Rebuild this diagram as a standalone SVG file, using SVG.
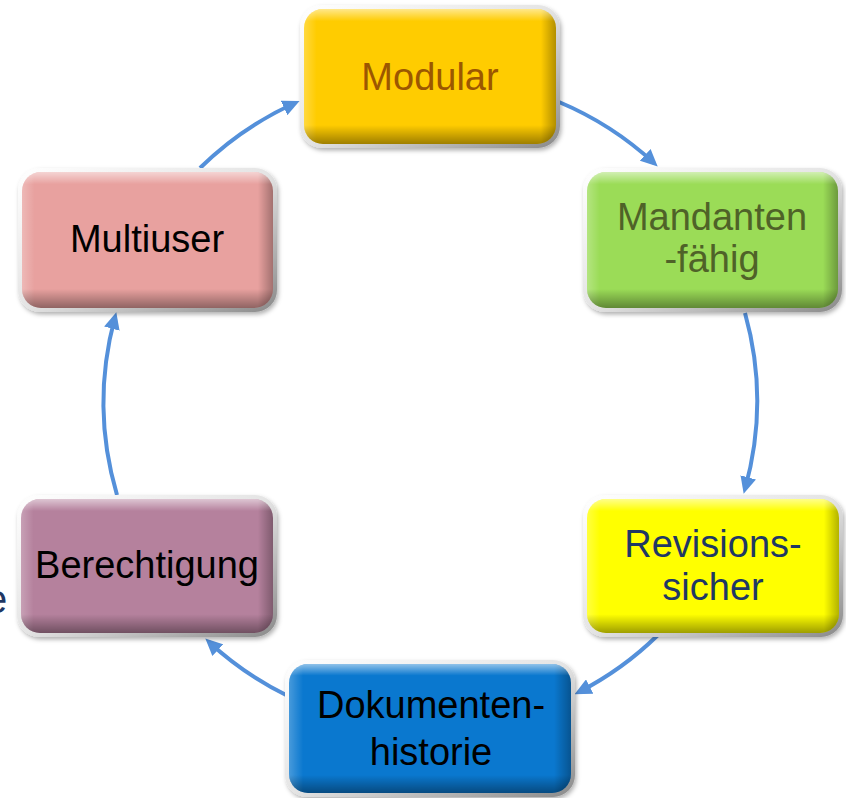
<svg xmlns="http://www.w3.org/2000/svg" width="846" height="798" viewBox="0 0 846 798">
  <defs>
    <linearGradient id="frameGrad" x1="0" y1="0" x2="1" y2="1">
      <stop offset="0" stop-color="#ffffff"/>
      <stop offset="0.5" stop-color="#e4e4e4"/>
      <stop offset="1" stop-color="#8a8a8a"/>
    </linearGradient>
    <linearGradient id="bevelV" x1="0" y1="0" x2="0" y2="1">
      <stop offset="0" stop-color="#ffffff" stop-opacity="0.55"/>
      <stop offset="0.09" stop-color="#ffffff" stop-opacity="0"/>
      <stop offset="0.86" stop-color="#000000" stop-opacity="0"/>
      <stop offset="1" stop-color="#000000" stop-opacity="0.38"/>
    </linearGradient>
    <linearGradient id="bevelH" x1="0" y1="0" x2="1" y2="0">
      <stop offset="0" stop-color="#ffffff" stop-opacity="0.25"/>
      <stop offset="0.05" stop-color="#ffffff" stop-opacity="0"/>
      <stop offset="0.94" stop-color="#000000" stop-opacity="0"/>
      <stop offset="1" stop-color="#000000" stop-opacity="0.3"/>
    </linearGradient>
    <filter id="shadow" x="-10%" y="-10%" width="120%" height="130%">
      <feDropShadow dx="1.5" dy="2.5" stdDeviation="2" flood-color="#000" flood-opacity="0.3"/>
    </filter>
    <marker id="arrow" markerUnits="userSpaceOnUse" markerWidth="18" markerHeight="16" refX="12" refY="8" orient="auto">
      <path d="M0,0 L17,8 L0,16 Z" fill="#5490DA"/>
    </marker>
  </defs>
  <style>
    .frame { fill: url(#frameGrad); filter: url(#shadow); }
    .bv { fill: url(#bevelV); }
    .bh { fill: url(#bevelH); }
    .lbl { font-family: "Liberation Sans", Arial, sans-serif; font-size: 38px; text-anchor: middle; }
    .conn { fill: none; stroke: #5490DA; stroke-width: 4; marker-end: url(#arrow); }
  </style>

  <text x="-15" y="613" class="lbl" style="text-anchor:start; fill:#1F3864; font-size:40px">e</text>

  <g id="connectors">
    <path class="conn" d="M559,102 A327,327 0 0 1 654,163"/>
    <path class="conn" d="M745,313 A327,327 0 0 1 745,489"/>
    <path class="conn" d="M658,635 A327,327 0 0 1 579,692"/>
    <path class="conn" d="M288,696 A327,327 0 0 1 209,642"/>
    <path class="conn" d="M117,495 A327,327 0 0 1 115,317"/>
    <path class="conn" d="M200,168 A327,327 0 0 1 295,103"/>
  </g>

  <g id="node-modular">
    <rect class="frame" x="300" y="5" width="260" height="143" rx="22"/>
    <rect x="304" y="9" width="252" height="135" rx="19" fill="#FFCC00"/>
    <rect class="bh" x="304" y="9" width="252" height="135" rx="19"/>
    <rect class="bv" x="304" y="9" width="252" height="135" rx="19"/>
    <text class="lbl" x="430" y="90" fill="#9C5700">Modular</text>
  </g>

  <g id="node-mandantenfaehig">
    <rect class="frame" x="583" y="168" width="259" height="144" rx="22"/>
    <rect x="587" y="172" width="251" height="136" rx="19" fill="#9BDC57"/>
    <rect class="bh" x="587" y="172" width="251" height="136" rx="19"/>
    <rect class="bv" x="587" y="172" width="251" height="136" rx="19"/>
    <text class="lbl" x="712" y="230" fill="#4F6228">Mandanten</text>
    <text class="lbl" x="712" y="272" fill="#4F6228">-fähig</text>
  </g>

  <g id="node-revisionssicher">
    <rect class="frame" x="583" y="495" width="260" height="142" rx="22"/>
    <rect x="587" y="499" width="252" height="134" rx="19" fill="#FFFF00"/>
    <rect class="bh" x="587" y="499" width="252" height="134" rx="19"/>
    <rect class="bv" x="587" y="499" width="252" height="134" rx="19"/>
    <text class="lbl" x="713" y="557" fill="#1F3864">Revisions-</text>
    <text class="lbl" x="713" y="600" fill="#1F3864">sicher</text>
  </g>

  <g id="node-dokumentenhistorie">
    <rect class="frame" x="285" y="660" width="290" height="137" rx="22"/>
    <rect x="289" y="664" width="282" height="129" rx="19" fill="#0A78CF"/>
    <rect class="bh" x="289" y="664" width="282" height="129" rx="19"/>
    <rect class="bv" x="289" y="664" width="282" height="129" rx="19"/>
    <text class="lbl" x="431" y="718" fill="#000000">Dokumenten-</text>
    <text class="lbl" x="431" y="765" fill="#000000">historie</text>
  </g>

  <g id="node-berechtigung">
    <rect class="frame" x="17" y="495" width="260" height="142" rx="22"/>
    <rect x="21" y="499" width="252" height="134" rx="19" fill="#B5819D"/>
    <rect class="bh" x="21" y="499" width="252" height="134" rx="19"/>
    <rect class="bv" x="21" y="499" width="252" height="134" rx="19"/>
    <text class="lbl" x="147" y="578" fill="#000000">Berechtigung</text>
  </g>

  <g id="node-multiuser">
    <rect class="frame" x="18" y="168" width="259" height="144" rx="22"/>
    <rect x="22" y="172" width="251" height="136" rx="19" fill="#E8A19F"/>
    <rect class="bh" x="22" y="172" width="251" height="136" rx="19"/>
    <rect class="bv" x="22" y="172" width="251" height="136" rx="19"/>
    <text class="lbl" x="147" y="252" fill="#000000">Multiuser</text>
  </g>
</svg>
